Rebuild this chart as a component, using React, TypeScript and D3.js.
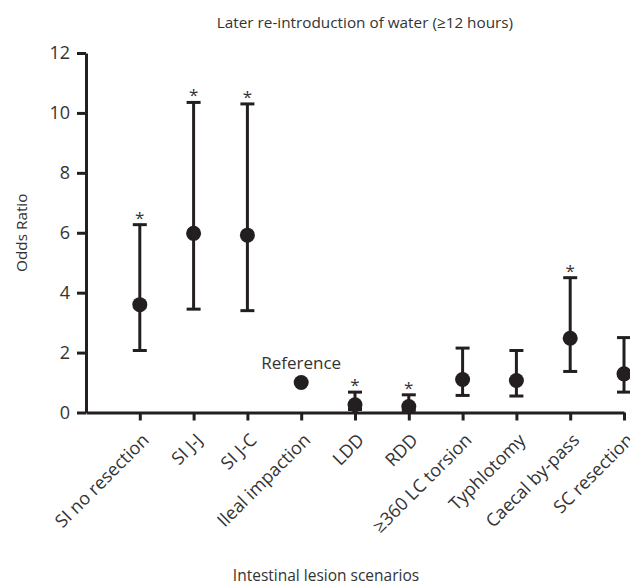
import { useEffect, useRef } from 'react';
import * as d3 from 'd3';

const categories = [
  'SI no resection', 'SI J-J', 'SI J-C', 'Ileal impaction', 'LDD',
  'RDD', '\u2265360 LC torsion', 'Typhlotomy', 'Caecal by-pass', 'SC resection',
];
const oddsRatio = [3.6, 5.98, 5.92, 1, 0.26, 0.2, 1.1, 1.07, 2.48, 1.29];
const lower = [2.07, 3.45, 3.4, null, 0.1, 0.07, 0.57, 0.55, 1.37, 0.68];
const upper = [6.27, 10.35, 10.3, null, 0.68, 0.59, 2.15, 2.07, 4.5, 2.5];
const significant = [true, true, true, false, true, true, false, false, true, false];
const yTicks = [0, 2, 4, 6, 8, 10, 12];

function App() {
  const ref = useRef<SVGSVGElement>(null);

  useEffect(() => {
    const svg = d3.select(ref.current);
    svg.selectAll('*').remove();

    const font = "'Open Sans', sans-serif";
    const ink = '#231f20';
    const textInk = '#333333';

    const x = d3.scaleLinear().domain([0, categories.length]).range([86, 624]);
    const y = d3.scaleLinear().domain([0, 12]).range([412.5, 53]);

    const g = svg.append('g');

    // y axis
    const yAxis = g.append('g')
      .attr('transform', `translate(${x(0)},0)`)
      .call(d3.axisLeft(y).tickValues(yTicks).tickSize(9).tickPadding(7).tickSizeOuter(0));
    yAxis.select('.domain').attr('stroke', ink).attr('stroke-width', 3);
    yAxis.selectAll('.tick line').attr('stroke', ink).attr('stroke-width', 3);
    yAxis.selectAll('.tick text')
      .attr('font-family', font).attr('font-size', 18).attr('fill', textInk);

    // x axis
    const xAxis = g.append('g')
      .attr('transform', `translate(0,${y(0)})`)
      .call(
        d3.axisBottom(x)
          .tickValues(d3.range(1, categories.length + 1))
          .tickFormat((d) => categories[(d as number) - 1])
          .tickSize(8)
          .tickSizeOuter(0)
      );
    xAxis.select('.domain').attr('stroke', ink).attr('stroke-width', 3);
    xAxis.selectAll('.tick line').attr('stroke', ink).attr('stroke-width', 3);
    xAxis.selectAll('.tick text')
      .attr('font-family', font).attr('font-size', 18).attr('fill', textInk)
      .attr('text-anchor', 'end')
      .attr('dy', 0)
      .attr('transform', 'translate(2,21) rotate(-45)');

    // error bars
    const rows = categories.map((c, i) => ({
      c, i, v: oddsRatio[i], lo: lower[i], hi: upper[i], sig: significant[i],
    }));
    const withCi = rows.filter((d) => d.lo !== null && d.hi !== null);
    const cap = 7;

    g.selectAll('line.whisker').data(withCi).enter().append('line')
      .attr('x1', (d) => x(d.i + 1)).attr('x2', (d) => x(d.i + 1))
      .attr('y1', (d) => y(d.lo as number)).attr('y2', (d) => y(d.hi as number))
      .attr('stroke', ink).attr('stroke-width', 3);
    g.selectAll('line.capHi').data(withCi).enter().append('line')
      .attr('x1', (d) => x(d.i + 1) - cap).attr('x2', (d) => x(d.i + 1) + cap)
      .attr('y1', (d) => y(d.hi as number)).attr('y2', (d) => y(d.hi as number))
      .attr('stroke', ink).attr('stroke-width', 3);
    g.selectAll('line.capLo').data(withCi).enter().append('line')
      .attr('x1', (d) => x(d.i + 1) - cap).attr('x2', (d) => x(d.i + 1) + cap)
      .attr('y1', (d) => y(d.lo as number)).attr('y2', (d) => y(d.lo as number))
      .attr('stroke', ink).attr('stroke-width', 3);

    g.selectAll('circle.pt').data(rows).enter().append('circle')
      .attr('cx', (d) => x(d.i + 1)).attr('cy', (d) => y(d.v))
      .attr('r', 7.5).attr('fill', ink);

    // significance stars
    g.selectAll('text.star').data(rows.filter((d) => d.sig)).enter().append('text')
      .attr('x', (d) => x(d.i + 1)).attr('y', (d) => y(d.hi as number) - 1)
      .attr('text-anchor', 'middle')
      .attr('font-family', font).attr('font-size', 17).attr('fill', textInk)
      .text('*');

    // reference label
    g.append('text')
      .attr('x', x(4)).attr('y', y(1) - 14)
      .attr('text-anchor', 'middle')
      .attr('font-family', font).attr('font-size', 17).attr('fill', textInk)
      .text('Reference');

    // titles
    svg.append('text')
      .attr('x', 365).attr('y', 28)
      .attr('text-anchor', 'middle')
      .attr('font-family', font).attr('font-size', 15.3).attr('fill', textInk)
      .text('Later re-introduction of water (\u226512 hours)');

    svg.append('text')
      .attr('transform', `translate(27,${(y(0) + y(12)) / 2}) rotate(-90)`)
      .attr('text-anchor', 'middle')
      .attr('font-family', font).attr('font-size', 15.3).attr('fill', textInk)
      .text('Odds Ratio');

    svg.append('text')
      .attr('x', 326).attr('y', 581)
      .attr('text-anchor', 'middle')
      .attr('font-family', font).attr('font-size', 15.5).attr('fill', textInk)
      .text('Intestinal lesion scenarios');
  }, []);

  return (
    <svg
      ref={ref}
      width={630}
      height={585}
      style={{ position: 'absolute', left: 0, top: 0, background: '#fff' }}
    />
  );
}

export default App;
